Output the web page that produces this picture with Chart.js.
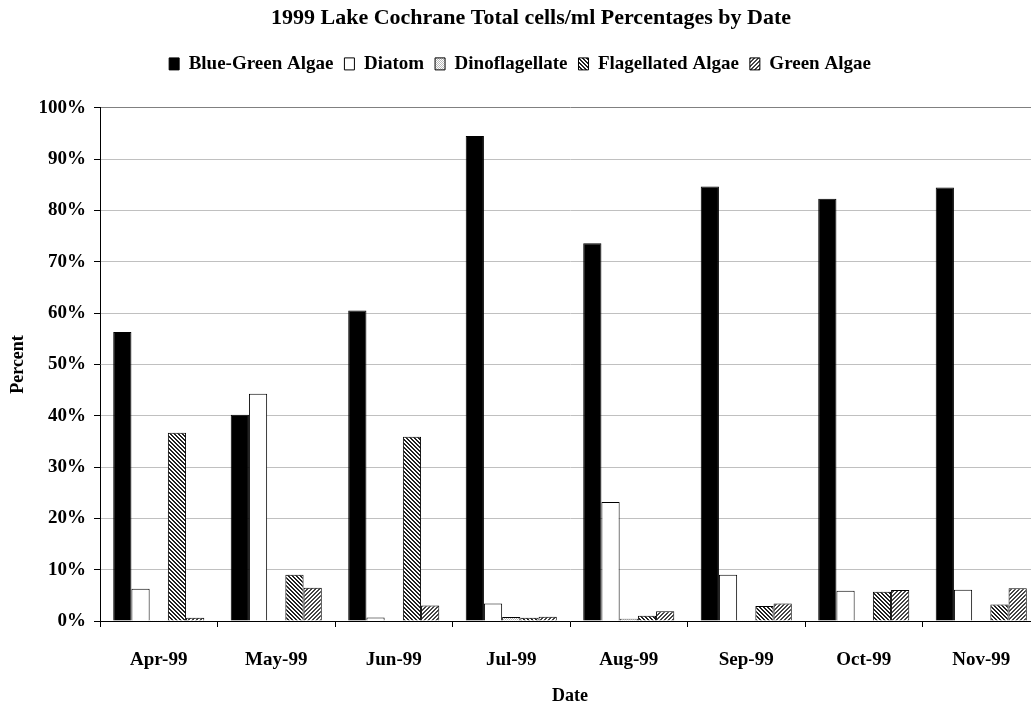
<!DOCTYPE html>
<html lang="en">
  <head>
    <meta charset="UTF-8" />
    <title>1999 Lake Cochrane</title>
    <script src="https://cdn.jsdelivr.net/npm/chart.js"></script>
    <style>
      html, body { margin: 0; padding: 0; overflow: hidden; background: #fff; }
      #wrap { width: 1040px; height: 707px; }
    </style>
  </head>
  <body>
    <div id="wrap"><canvas id="algae"></canvas></div>

    <script>
      const dates = ["Apr-99", "May-99", "Jun-99", "Jul-99", "Aug-99", "Sep-99", "Oct-99", "Nov-99"];

      // percent of total cells/ml
      const blueGreen   = [56.3, 40.2, 60.5, 94.5, 73.6, 84.7, 82.3, 84.5];
      const diatom      = [6.3, 44.3, 0.7, 3.4, 23.2, 9.0, 5.9, 6.1];
      const dinoflag    = [0.15, 0, 0.1, 0.8, 0.45, 0.15, 0.1, 0];
      const flagellated = [36.7, 9.0, 35.9, 0.65, 1.0, 2.9, 5.7, 3.2];
      const greenAlgae  = [0.65, 6.5, 3.0, 0.85, 1.9, 3.4, 6.05, 6.4];

      const yTicks = [0, 10, 20, 30, 40, 50, 60, 70, 80, 90, 100];

      const serif = "'Liberation Serif', 'Times New Roman', serif";

      // little tile patterns like the old excel fills
      function makePattern(size, draw) {
        const c = document.createElement("canvas");
        c.width = size;
        c.height = size;
        const g = c.getContext("2d");
        g.fillStyle = "#fff";
        g.fillRect(0, 0, size, size);
        draw(g);
        return g.createPattern(c, "repeat");
      }

      const dotFill = makePattern(2, function (g) {
        g.fillStyle = "#b8b8b8";
        g.fillRect(0, 0, 1, 1);
        g.fillRect(1, 1, 1, 1);
      });
      // back-slash stripes, dense
      const flagFill = makePattern(4, function (g) {
        g.fillStyle = "#222";
        for (let i = 0; i < 4; i++) {
          g.fillRect(i, i, 1, 1);
          g.fillRect((i + 1) % 4, i, 1, 1);
        }
      });
      // forward-slash stripes
      const greenFill = makePattern(4, function (g) {
        g.fillStyle = "#444";
        for (let i = 0; i < 4; i++) {
          g.fillRect(3 - i, i, 1, 1);
          g.fillRect((4 - i) % 4, i, 1, 1);
        }
      });

      // legend box is too short for the gap under it, stretch it a bit
      const legendGap = {
        id: "legendGap",
        beforeLayout(chart) {
          const lg = chart.legend;
          if (lg && !lg._gapPatched) {
            const fit = lg.fit.bind(lg);
            lg.fit = function () {
              fit();
              this.height += 24.5;
            };
            lg._gapPatched = true;
          }
        },
      };

      const ctx = document.getElementById("algae");
      const chart1 = new Chart(ctx, {
        type: "bar",
        data: {
          labels: dates,
          datasets: [
            { label: "Blue-Green Algae", data: blueGreen, backgroundColor: "#000" },
            { label: "Diatom", data: diatom, backgroundColor: "#fff" },
            { label: "Dinoflagellate", data: dinoflag, backgroundColor: dotFill },
            { label: "Flagellated Algae", data: flagellated, backgroundColor: flagFill },
            { label: "Green Algae", data: greenAlgae, backgroundColor: greenFill },
          ],
        },
        plugins: [legendGap],
        options: {
          responsive: true,
          maintainAspectRatio: false,
          animation: false,
          datasets: {
            bar: {
              borderColor: "#000",
              borderWidth: 1,
              categoryPercentage: 0.775,
              barPercentage: 1.0,
            },
          },
          plugins: {
            tooltip: { enabled: false },
            title: {
              display: true,
              // leading spaces nudge it right like the original
              text: "    1999 Lake Cochrane Total cells/ml Percentages by Date",
              color: "#000",
              font: { family: serif, size: 22, weight: "bold" },
              padding: { top: 5, bottom: 12 },
            },
            legend: {
              position: "top",
              labels: {
                color: "#000",
                font: { family: serif, size: 19, weight: "bold" },
                boxWidth: 10,
                boxHeight: 12,
                padding: 11,
              },
            },
          },
          scales: {
            x: {
              afterFit: function (axis) {
                axis.height = 86;
              },
              grid: {
                offset: true,
                drawOnChartArea: false,
                drawTicks: true,
                tickLength: 6,
                color: "#000",
              },
              border: { color: "#000", width: 1 },
              ticks: {
                color: "#000",
                font: { family: serif, size: 19, weight: "bold" },
                padding: 22,
                maxRotation: 0,
              },
              title: {
                display: true,
                text: "Date",
                color: "#000",
                font: { family: serif, size: 18, weight: "bold" },
                padding: { top: 0, bottom: 0 },
              },
            },
            y: {
              min: 0,
              max: 100,
              afterBuildTicks: function (axis) {
                axis.ticks = yTicks.map((v) => ({ value: v }));
              },
              afterFit: function (axis) {
                axis.width = 100;
              },
              grid: {
                color: function (c) {
                  return c.tick && c.tick.value === 100 ? "#808080" : "#c0c0c0";
                },
                tickColor: "#000",
                tickLength: 6,
              },
              border: { color: "#000", width: 1 },
              ticks: {
                color: "#000",
                font: { family: serif, size: 19, weight: "bold" },
                padding: 8,
                callback: function (v) {
                  return v + "%";
                },
              },
              title: {
                display: true,
                text: "Percent",
                color: "#000",
                font: { family: serif, size: 18, weight: "bold" },
                padding: { top: 8, bottom: 0 },
              },
            },
          },
        },
      });
    </script>
  </body>
</html>
